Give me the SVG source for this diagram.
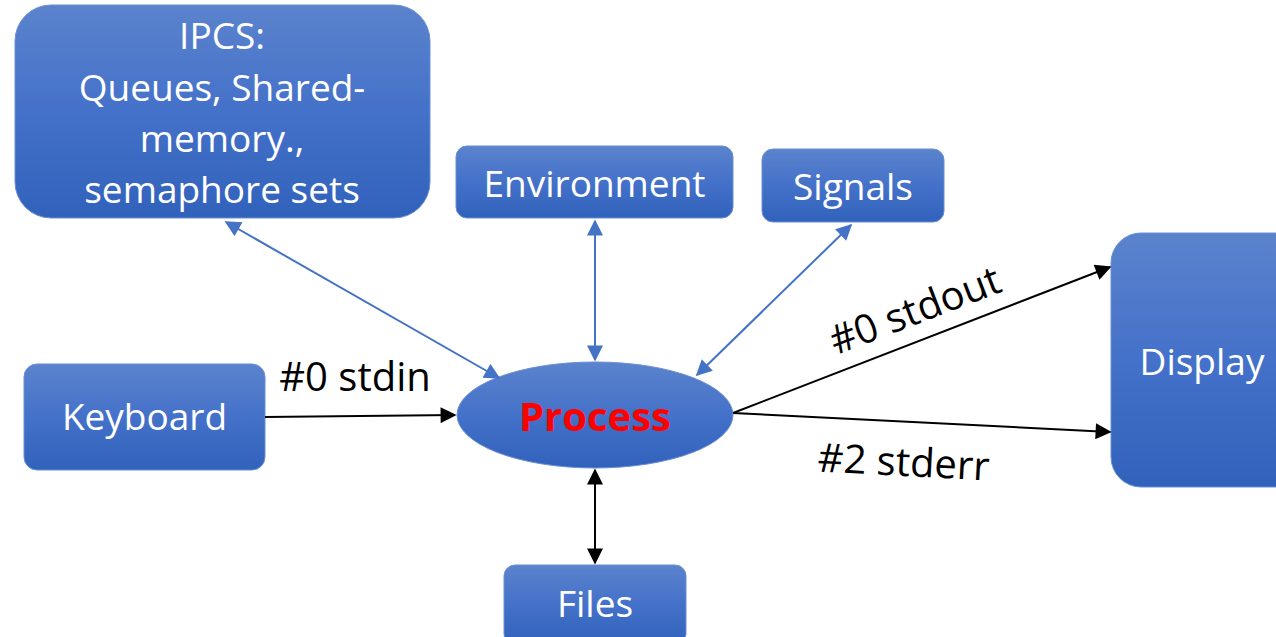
<svg xmlns="http://www.w3.org/2000/svg" width="1276" height="637" viewBox="0 0 1276 637">
<defs>
<linearGradient id="g" x1="0" y1="0" x2="0" y2="1">
<stop offset="0" stop-color="#5b83cd"/>
<stop offset="0.5" stop-color="#4471c9"/>
<stop offset="1" stop-color="#3162bb"/>
</linearGradient>
<marker id="ak" viewBox="0 0 10 10" refX="9" refY="5" markerWidth="18" markerHeight="16" orient="auto-start-reverse" markerUnits="userSpaceOnUse">
<path d="M0,0 L10,5 L0,10 z" fill="#000"/>
</marker>
<marker id="ab2" viewBox="0 0 10 10" refX="9" refY="5" markerWidth="18" markerHeight="16" orient="auto-start-reverse" markerUnits="userSpaceOnUse">
<path d="M0,0 L10,5 L0,10 z" fill="#4472c4"/>
</marker>
</defs>
<style>
.box{fill:url(#g);stroke:#6a8fd2;stroke-width:1}
.t{font-family:"Open Sans","Liberation Sans",sans-serif;fill:#fff;text-anchor:middle;font-size:37px}
.lbl{font-family:"Open Sans","Liberation Sans",sans-serif;fill:#000;text-anchor:middle;font-size:40px}
.cb{stroke:#4472c4;stroke-width:2;fill:none;marker-start:url(#ab2);marker-end:url(#ab2)}
.ck{stroke:#000;stroke-width:2;fill:none}
</style>
<g id="ipcs">
<rect class="box" x="15" y="5" width="415" height="213" rx="36"/>
<text class="t" x="222" y="49">IPCS:</text>
<text class="t" x="222" y="101">Queues, Shared-</text>
<text class="t" x="222" y="152">memory.,</text>
<text class="t" x="222" y="203">semaphore sets</text>
</g>
<g id="environment">
<rect class="box" x="456" y="146" width="277" height="72" rx="11"/>
<text class="t" x="594.5" y="197">Environment</text>
</g>
<g id="signals">
<rect class="box" x="762" y="149" width="182" height="73" rx="11"/>
<text class="t" x="853" y="200">Signals</text>
</g>
<g id="keyboard">
<rect class="box" x="24" y="364" width="241" height="106" rx="13"/>
<text class="t" x="144.5" y="430">Keyboard</text>
</g>
<g id="process">
<ellipse cx="595" cy="415" rx="138" ry="53" fill="url(#g)" stroke="#6a8fd2" stroke-width="1"/>
<text x="595" y="431" font-family="'Open Sans','Liberation Sans',sans-serif" font-weight="bold" font-size="40" fill="#ff0000" text-anchor="middle">Process</text>
</g>
<g id="display">
<rect class="box" x="1111" y="233" width="200" height="254" rx="30"/>
<text class="t" x="1202" y="375">Display</text>
</g>
<g id="files">
<rect class="box" x="504" y="565" width="182" height="80" rx="11"/>
<text class="t" x="595" y="617">Files</text>
</g>
<g id="connectors">
<line class="cb" x1="226" y1="222" x2="499" y2="378"/>
<line class="cb" x1="595" y1="221" x2="595" y2="360"/>
<line class="cb" x1="851" y1="225" x2="697" y2="375"/>
<line class="ck" x1="265" y1="417" x2="455" y2="415" marker-end="url(#ak)"/>
<line class="ck" x1="733" y1="413" x2="1110" y2="267" marker-end="url(#ak)"/>
<line class="ck" x1="733" y1="413" x2="1110" y2="432" marker-end="url(#ak)"/>
<line class="ck" x1="595" y1="470" x2="595" y2="563" marker-start="url(#ak)" marker-end="url(#ak)"/>
<text class="lbl" x="355" y="391">#0 stdin</text>
<text class="lbl" x="0" y="0" transform="translate(920,323) rotate(-21)">#0 stdout</text>
<text class="lbl" x="0" y="0" transform="translate(903,476) rotate(3)">#2 stderr</text>
</g>
</svg>
